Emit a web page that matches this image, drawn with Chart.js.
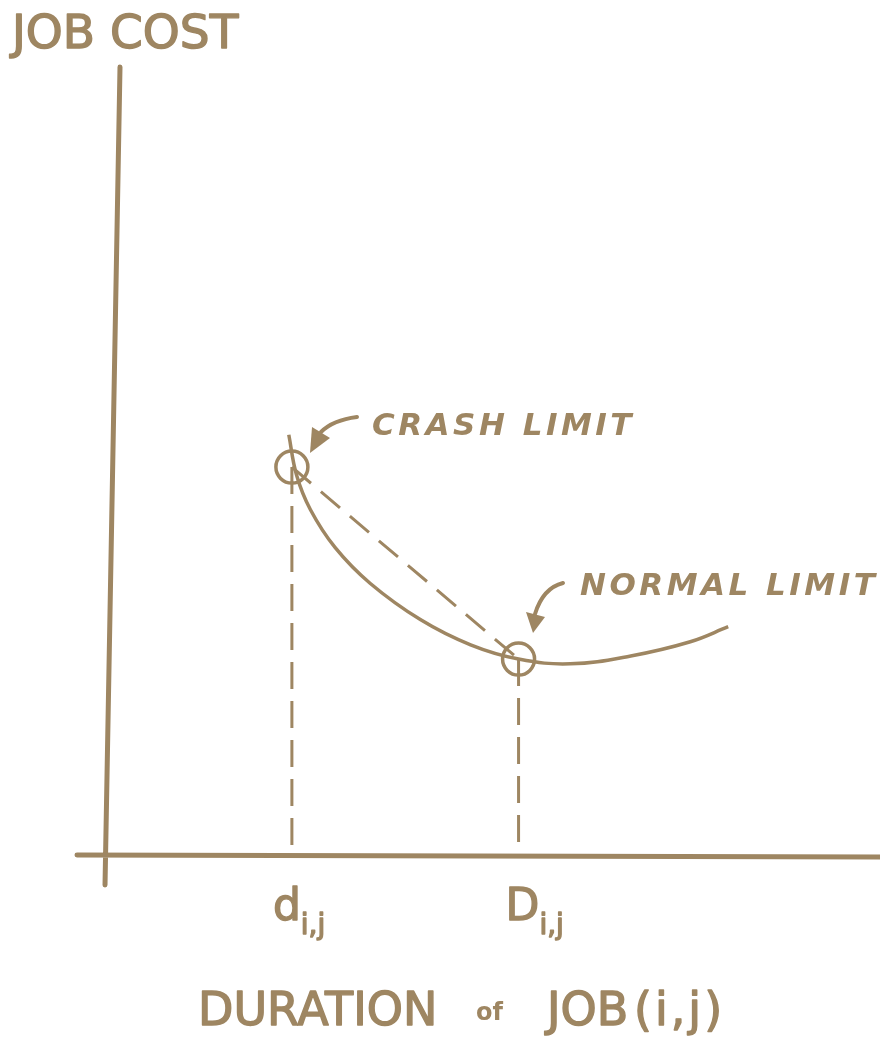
<!DOCTYPE html>
<html>
<head>
<meta charset="utf-8">
<script src="https://cdn.jsdelivr.net/npm/chart.js@4"></script>
<style>
  body { margin: 0; background: #fff; }
  #wrap { width: 880px; height: 1040px; }
</style>
</head>
<body>
<div id="wrap"><canvas id="cost" width="880" height="1040"></canvas></div>
<script>
// cost curve (x = duration, y = job cost)
const duration = [2.35, 2.45, 2.63, 2.95, 3.40, 4.05, 4.70, 5.32, 5.99, 6.77, 7.54, 8.03];
const jobCost  = [5.32, 4.81, 4.37, 3.89, 3.44, 2.98, 2.66, 2.48, 2.42, 2.52, 2.70, 2.89];

// crash and normal limits
const limitDuration = [2.39, 5.32];
const limitCost = [4.91, 2.48];
const tickLabels = ["d", "D"];
const tickSub = "i,j";

const ink = "rgb(158,134,98)";

const pts = (xs, ys) => xs.map((x, i) => ({x: x, y: ys[i]}));

const sketch = {
  id: "sketch",
  beforeDatasetsDraw(chart) {
    const ctx = chart.ctx;
    const xs = chart.scales.x, ys = chart.scales.y;
    const x0 = xs.getPixelForValue(0), y0 = ys.getPixelForValue(0);
    const top = ys.getPixelForValue(10);
    ctx.save();
    ctx.strokeStyle = ink;
    ctx.lineWidth = 5;
    ctx.lineCap = "round";
    ctx.beginPath();
    ctx.moveTo(x0 + 13, top + 2);
    ctx.lineTo(x0 - 2, y0 + 30);
    ctx.moveTo(x0 - 30, y0);
    ctx.lineTo(chart.width, y0 + 2);
    ctx.stroke();
    ctx.restore();
  },
  afterDatasetsDraw(chart) {
    const ctx = chart.ctx;
    const xs = chart.scales.x;
    ctx.save();
    ctx.fillStyle = ink;
    ctx.strokeStyle = ink;
    ctx.lineJoin = "round";
    ctx.textBaseline = "alphabetic";

    // hand lettering is heavier than the font, so fill + thin outline
    const letter = (s, x, y) => {
      ctx.fillText(s, x, y);
      ctx.lineWidth = 1.4;
      ctx.strokeText(s, x, y);
    };

    ctx.font = "47px 'DejaVu Sans'";
    letter("JOB COST", 12, 48);

    ctx.font = "46px 'DejaVu Sans'";
    letter("DURATION", 198, 1025);
    letter("JOB", 547, 1025);
    ctx.letterSpacing = "3px";
    letter("(i,j)", 634, 1025);
    ctx.letterSpacing = "0px";
    ctx.font = "bold 24px 'DejaVu Sans'";
    ctx.fillText("of", 476, 1020);

    ctx.font = "italic bold 31px 'DejaVu Sans'";
    ctx.letterSpacing = "3.5px";
    ctx.fillText("CRASH LIMIT", 372, 435);
    ctx.fillText("NORMAL LIMIT", 580, 595);
    ctx.letterSpacing = "0px";

    // tick labels under the axis
    tickLabels.forEach((t, i) => {
      const px = xs.getPixelForValue(limitDuration[i]) - (i === 0 ? 19 : 13);
      ctx.font = "44px 'DejaVu Sans'";
      letter(t, px, 920);
      const w = ctx.measureText(t).width;
      ctx.font = "28px 'DejaVu Sans'";
      letter(tickSub, px + w, 934);
    });

    // curved arrows to the limits
    ctx.lineWidth = 4;
    ctx.lineCap = "round";
    const arrow = (tail, ctrl, end, b1, b2, tip) => {
      ctx.beginPath();
      ctx.moveTo(tail[0], tail[1]);
      ctx.quadraticCurveTo(ctrl[0], ctrl[1], end[0], end[1]);
      ctx.stroke();
      ctx.beginPath();
      ctx.moveTo(b1[0], b1[1]);
      ctx.lineTo(b2[0], b2[1]);
      ctx.lineTo(tip[0], tip[1]);
      ctx.closePath();
      ctx.fill();
    };
    arrow([357, 417], [333, 420], [321, 432], [312, 427], [330, 438], [310, 453]);
    arrow([563, 583], [543, 588], [535, 614], [526, 612], [545, 617], [533, 633]);
    ctx.restore();
  }
};

new Chart("cost", {
  type: "line",
  data: {
    datasets: [{
      data: pts(duration, jobCost),
      borderColor: ink,
      borderWidth: 3.5,
      tension: 0.4,
      pointRadius: 0,
      fill: false
    }, {
      data: pts(limitDuration, limitCost),
      borderColor: ink,
      borderWidth: 3,
      borderDash: [25, 13],
      pointRadius: 0,
      fill: false
    }, {
      data: [{x: limitDuration[0], y: limitCost[0]}, {x: limitDuration[0], y: 0}],
      borderColor: ink,
      borderWidth: 3,
      borderDash: [27, 12],
      pointRadius: 0
    }, {
      data: [{x: limitDuration[1], y: limitCost[1]}, {x: limitDuration[1], y: 0}],
      borderColor: ink,
      borderWidth: 3,
      borderDash: [27, 12],
      pointRadius: 0
    }, {
      data: pts(limitDuration, limitCost),
      showLine: false,
      pointRadius: 16,
      pointBorderWidth: 3.5,
      pointBorderColor: ink,
      pointBackgroundColor: "rgba(0,0,0,0)"
    }]
  },
  options: {
    responsive: false,
    animation: false,
    devicePixelRatio: 1,
    layout: {padding: {left: 107, right: 0, top: 65, bottom: 185}},
    scales: {
      // the circle markers leave a 20px margin on the right, so the range is trimmed to keep 77.3px per unit
      x: {type: "linear", min: 0, max: 9.74, display: false},
      y: {type: "linear", min: 0, max: 10, display: false}
    },
    plugins: {legend: {display: false}, tooltip: {enabled: false}},
    clip: false
  },
  plugins: [sketch]
});
</script>
</body>
</html>
